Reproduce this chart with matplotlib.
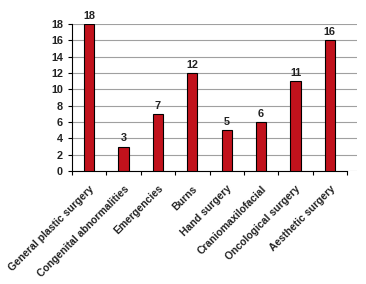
import matplotlib.pyplot as plt
import numpy as np

categories = ['General plastic surgery', 'Congenital abnormalities', 'Emergencies', 'Burns',
              'Hand surgery', 'Craniomaxilofacial', 'Oncological surgery', 'Aesthetic surgery']
values = [18, 3, 7, 12, 5, 6, 11, 16]

plt.rcParams['font.family'] = ['Liberation Sans', 'DejaVu Sans']
plt.rcParams['font.weight'] = 'bold'

fig = plt.figure(figsize=(3.66, 2.84), dpi=100)
ax = fig.add_axes([72 / 366, 1 - 171 / 284, (357 - 72) / 366, (171 - 24) / 284])

x = np.arange(len(categories))
ax.bar(x, values, width=0.3, color='#c1121c', edgecolor='black', linewidth=0.8, zorder=3)
for xi, v in zip(x, values):
    ax.text(xi, v + 0.4, str(v), ha='center', va='bottom', fontsize=7.8, fontweight='bold', color='#222222')

ax.set_ylim(0, 18)
ax.set_yticks(range(0, 19, 2))
ax.set_xlim(-0.5, 7.5 + 10 / 34.4)
ax.yaxis.grid(True, color='#a0a0a0', linewidth=0.8, zorder=0)
ax.set_axisbelow(True)

ax.spines['top'].set_visible(False)
ax.spines['right'].set_visible(False)
ax.spines['bottom'].set_bounds(-0.5, 7.5)
ax.spines['left'].set_linewidth(0.8)
ax.spines['bottom'].set_linewidth(0.8)

ax.set_xticks(x)
ax.set_xticklabels(categories, rotation=45, ha='right', rotation_mode='anchor', fontsize=7.5, fontweight='bold', color='#222222')
ax.tick_params(axis='x', which='major', length=0, pad=9)
ax.set_xticks(np.arange(-0.5, 8, 1), minor=True)
ax.tick_params(axis='x', which='minor', length=3, width=0.8, direction='out')
ax.tick_params(axis='y', length=3, width=0.8, labelsize=7.8, labelcolor='#222222')

fig.savefig('out.png', dpi=100)
